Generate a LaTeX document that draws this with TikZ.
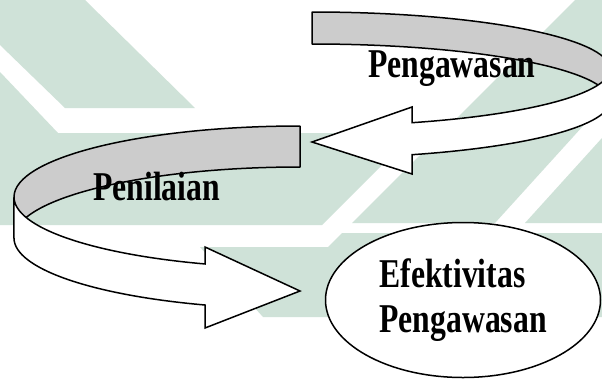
\documentclass[tikz,border=0pt]{standalone}
\usepackage{fontspec}
\setmainfont{Liberation Serif}
\usepackage{graphicx}
\usepackage{tikz}
\usetikzlibrary{positioning,shapes.geometric}
\definecolor{wmgreen}{RGB}{207,226,216}
\definecolor{bandgrey}{RGB}{204,204,204}
\newcommand{\tall}[1]{\scalebox{1}[1.29]{#1}}

\begin{document}
\begin{tikzpicture}[
            x=1pt, y=-1pt,
            wm/.style={fill=wmgreen, draw=none},
            back/.style={fill=bandgrey, draw=black, line width=1.5pt, line join=round},
            front/.style={fill=white, draw=black, line width=1.5pt, line join=miter},
            txt/.style={font=\fontsize{31.7}{45}\selectfont\bfseries, inner sep=0pt},
            goal/.style={ellipse, draw, fill=white, line width=1.5pt, minimum width=275pt, minimum height=155pt, align=left, font=\fontsize{31.7}{45}\selectfont\bfseries}
        ]
        \useasboundingbox (0,0) rectangle (602,381);
        \fill[white] (0,0) rectangle (602,381);

        \fill[wm] (0,0) -- (85,0) -- (195,108) -- (65,108) -- (0,45) -- cycle;
        \fill[wm] (0,72) -- (58,133) -- (414,133) -- (322,225) -- (0,225) -- cycle;
        \fill[wm] (352,223) -- (495,223) -- (602,105) -- (602,0) -- (575,0) -- cycle;
        \fill[wm] (525,223) -- (602,138) -- (602,223) -- cycle;
        \fill[wm] (200,247) -- (328,247) -- (342,233) -- (602,233) -- (602,317) -- (263,317) -- cycle;

        \draw[back] (312,44) arc[start angle=270, end angle=360, x radius=298, y radius=57] -- (610,69)
            arc[start angle=0, end angle=-90, x radius=298, y radius=57] -- cycle;
        \draw[front] (610,69) arc[start angle=0, end angle=70.39, x radius=298, y radius=57]
            -- (412,107) -- (312,142) -- (412,174) -- (412,154.7)
            arc[start angle=70.39, end angle=0, x radius=298, y radius=57] -- cycle;

        \draw[back] (300,167) arc[start angle=270, end angle=180, x radius=286, y radius=71] -- (14,197)
            arc[start angle=180, end angle=270, x radius=286, y radius=71] -- cycle;
        \draw[front] (14,197) arc[start angle=180, end angle=109.4, x radius=286, y radius=71]
            -- (205,247) -- (300,291) -- (205,328) -- (205,305)
            arc[start angle=109.4, end angle=180, x radius=286, y radius=71] -- cycle;

        \node[txt, anchor=base west] (pengawasan) at (368,77) {\tall{Pengawasan}};
        \node[txt, anchor=base west] (penilaian) at (93,200) {\tall{Penilaian}};
        \node[goal] (efektivitas) at (463,300) {\tall{Efektivitas}\\ \tall{Pengawasan}};
        \end{tikzpicture}
\end{document}
